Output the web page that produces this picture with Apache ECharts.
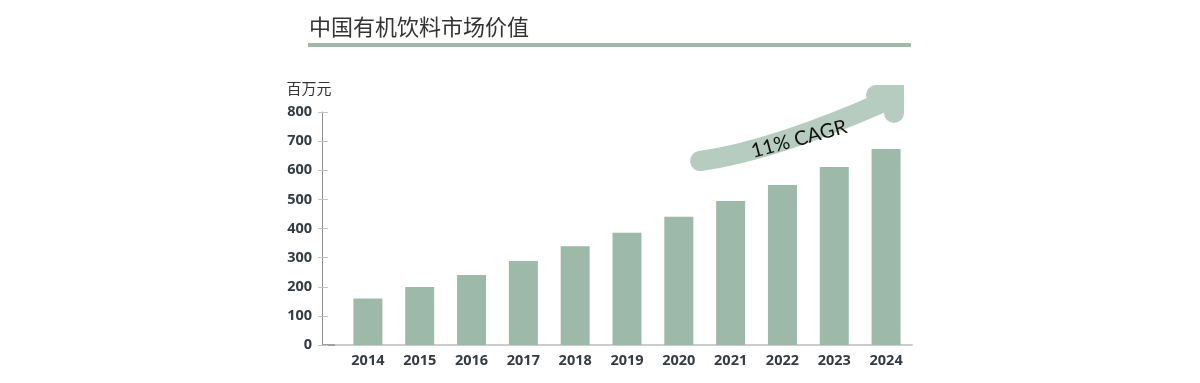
<!DOCTYPE html>
<html>
<head>
<meta charset="utf-8">
<script src="https://cdn.jsdelivr.net/npm/echarts@6/dist/echarts.min.js"></script>
<style>
html,body{margin:0;padding:0;background:#fff;}
#main{width:1200px;height:383px;}
</style>
</head>
<body>
<div id="main"></div>
<script>
const titleText = '中国有机饮料市场价值';
const unitLabel = '百万元';
const years = ['2014','2015','2016','2017','2018','2019','2020','2021','2022','2023','2024'];
const values = [160, 199, 240, 288, 339, 385, 440, 494, 549, 611, 673];
const yTicks = [0, 100, 200, 300, 400, 500, 600, 700, 800];
const cagrLabel = '11% CAGR';

const barColor = '#9cb9a9';
const arrowColor = '#b6ccc0';
const textColor = '#353b40';

const chart = echarts.init(document.getElementById('main'), null, {renderer: 'canvas'});

const option = {
  animation: false,
  backgroundColor: '#ffffff',
  title: {
    text: titleText,
    left: 304,
    top: 11,
    textStyle: {
      fontFamily: '"Noto Sans CJK SC", sans-serif',
      fontSize: 22,
      fontWeight: 'normal',
      color: '#333333'
    }
  },
  grid: {left: 342, right: 288, top: 112, bottom: 38, containLabel: false},
  xAxis: {
    type: 'category',
    data: years,
    boundaryGap: true,
    axisLine: {show: true, lineStyle: {color: '#cccccc', width: 2}},
    axisTick: {show: false},
    axisLabel: {
      margin: 8,
      fontFamily: '"Open Sans", sans-serif',
      fontWeight: 'bold',
      fontSize: 14.5,
      color: textColor
    }
  },
  yAxis: [{
    type: 'value',
    min: yTicks[0],
    max: yTicks[yTicks.length - 1],
    interval: 100,
    offset: 20,
    name: unitLabel,
    nameLocation: 'end',
    nameGap: 16,
    nameTextStyle: {
      fontFamily: '"Noto Sans CJK SC", sans-serif',
      fontSize: 15,
      color: '#333333',
      align: 'center',
      padding: [0, 26, 0, 0]
    },
    axisLine: {show: true, lineStyle: {color: '#8f8f8f', width: 1}},
    axisTick: {show: true, length: 4, lineStyle: {color: '#c4c4c4', width: 1}},
    splitLine: {show: false},
    axisLabel: {
      margin: 10,
      fontFamily: '"Open Sans", sans-serif',
      fontWeight: 'bold',
      fontSize: 14.5,
      color: textColor
    }
  }, {
    type: 'value',
    min: yTicks[0],
    max: yTicks[yTicks.length - 1],
    interval: 100,
    offset: 20,
    position: 'left',
    axisLine: {show: false},
    axisTick: {show: true, inside: true, length: 6, lineStyle: {color: '#c4c4c4', width: 1}},
    axisLabel: {show: false},
    splitLine: {show: false}
  }],
  series: [{
    type: 'bar',
    data: values,
    barWidth: 29,
    itemStyle: {color: barColor},
    yAxisIndex: 0
  }],
  graphic: [
    {
      type: 'rect',
      shape: {x: 308, y: 43, width: 603, height: 4},
      style: {fill: barColor}
    },
    {
      type: 'line',
      shape: {x1: 322, y1: 345, x2: 342, y2: 345},
      style: {stroke: '#cccccc', lineWidth: 2}
    },
    {
      type: 'line',
      shape: {x1: 322, y1: 345, x2: 335, y2: 345},
      style: {stroke: '#a0a0a0', lineWidth: 2}
    },
    {
      type: 'bezierCurve',
      shape: {x1: 700, y1: 161, cpx1: 773, cpy1: 151, x2: 888, y2: 100},
      style: {fill: null, stroke: arrowColor, lineWidth: 20, lineCap: 'round'}
    },
    {
      type: 'polyline',
      shape: {points: [[876, 95], [894, 95], [894, 113]]},
      style: {fill: null, stroke: arrowColor, lineWidth: 20, lineCap: 'round', lineJoin: 'miter'}
    },
    {
      type: 'text',
      x: 799,
      y: 139,
      rotation: 15 * Math.PI / 180,
      style: {
        text: cagrLabel,
        fontFamily: 'Lato, sans-serif',
        fontSize: 20,
        fill: '#111111',
        align: 'center',
        verticalAlign: 'middle'
      }
    }
  ]
};

chart.setOption(option);
</script>
</body>
</html>
